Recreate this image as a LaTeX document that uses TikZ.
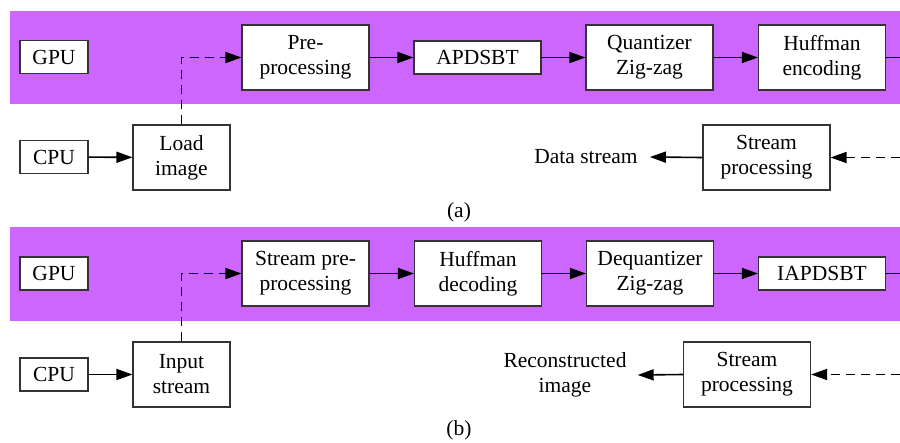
\documentclass[tikz,border=0pt]{standalone}
\usepackage{fontspec}
\setmainfont{Liberation Serif}
\usetikzlibrary{arrows.meta}
\definecolor{band}{RGB}{204,102,255}
\tikzset{
  box/.style={draw=black!80, line width=1.1pt, fill=white, align=center,
    inner sep=0pt, minimum width=#1},
  box/.default=127pt,
  tall/.style={minimum height=65pt},
  flat/.style={minimum height=33pt},
  arr/.style={line width=1.6pt, -{Triangle[length=16pt,width=11pt]}},
  darr/.style={arr, dash pattern=on 9pt off 6pt},
  plain/.style={line width=1.6pt},
  lbl/.style={align=center, inner sep=0pt},
}
\begin{document}
\begin{tikzpicture}[x=1pt, y=-1pt, font=\fontsize{21.5}{25}\selectfont]
\useasboundingbox (0,0) rectangle (900,442);

% ---- panel (a): encoder ----
\fill[band] (10,11) rectangle (900,104);
\node[box=68pt, flat] (gpua) at (54,57) {GPU};
\node[box=68pt, flat] (cpua) at (54,157) {CPU};
\node[box=97pt, tall] (load) at (181.5,157.5) {Load\\image};
\node[box, tall] (pre) at (305.5,57.5) {Pre-\\processing};
\node[box, flat] (apd) at (477.5,57.5) {APDSBT};
\node[box, tall] (quant) at (649.5,57.5) {Quantizer\\Zig-zag};
\node[box, tall] (huffe) at (822,57.5) {Huffman\\encoding};
\node[box, tall] (spa) at (766.5,157.5) {Stream\\processing};
\node[lbl, inner xsep=12pt] (data) at (586,157) {Data stream};
\coordinate (outa) at (900,57.5);
\coordinate (ina) at (900,157.5);
\node[lbl] (capa) at (459,212) {(a)};

\draw[arr] (cpua) -- (load);
\draw[darr] (load.north) |- (pre.west);
\draw[arr] (pre) -- (apd);
\draw[arr] (apd) -- (quant);
\draw[arr] (quant) -- (huffe);
\draw[plain] (huffe.east) -- (outa);
\draw[darr] (ina) -- (spa.east);
\draw[arr] (spa.west) -- (data.east);

% ---- panel (b): decoder ----
\fill[band] (10,227) rectangle (900,321);
\node[box=68pt, flat] (gpub) at (54,273.5) {GPU};
\node[box=68pt, flat] (cpub) at (54,374.5) {CPU};
\node[box=97pt, tall] (inp) at (181.5,374.5) {Input\\stream};
\node[box, tall] (spre) at (305.5,273.5) {Stream pre-\\processing};
\node[box, tall] (huffd) at (478,273.5) {Huffman\\decoding};
\node[box, tall] (dequ) at (650,273.5) {Dequantizer\\Zig-zag};
\node[box, flat] (iapd) at (822,273.5) {IAPDSBT};
\node[box, tall] (spb) at (747,374.5) {Stream\\processing};
\node[lbl, inner xsep=11pt] (rec) at (565,375) {Reconstructed\\image};
\coordinate (outb) at (900,273.5);
\coordinate (inb) at (900,374.5);
\node[lbl] (capb) at (459,430) {(b)};

\draw[arr] (cpub) -- (inp);
\draw[darr] (inp.north) |- (spre.west);
\draw[arr] (spre) -- (huffd);
\draw[arr] (huffd) -- (dequ);
\draw[arr] (dequ) -- (iapd);
\draw[plain] (iapd.east) -- (outb);
\draw[darr] (inb) -- (spb.east);
\draw[arr] (spb.west) -- (rec.east);
\end{tikzpicture}
\end{document}
